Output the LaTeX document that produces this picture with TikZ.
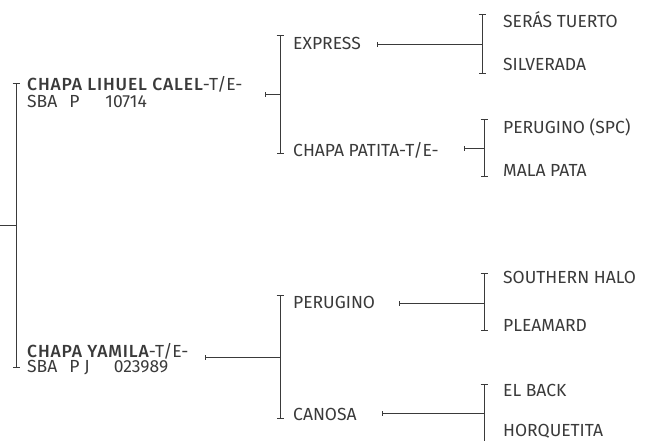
\documentclass[tikz,border=0pt]{standalone}
\usepackage{fontspec}
\setmainfont{Fira Sans}[BoldFont={Fira Sans Medium}]
\usepackage{tikz}
\usetikzlibrary{arrows.meta,calc}
\definecolor{ink}{HTML}{3A3A3A}
\newcommand{\horsename}[1]{{\bfseries\addfontfeature{LetterSpace=5}#1}}
\tikzset{
    horse/.style={anchor=west, inner sep=0pt, text=ink, font=\fontsize{17.5}{19}\selectfont},
    bracket/.style={draw=ink, line width=0.9pt, {Bar[width=7pt]}-{Bar[width=7pt]}},
    link/.style={draw=ink, line width=0.9pt, {Bar[width=5pt]}-}
}

\begin{document}
\begin{tikzpicture}[x=1pt, y=-1pt]
        \useasboundingbox (0,0) rectangle (649,440);

        % root
        \coordinate (root) at (0,225);
        \coordinate (b0t) at (16,83);
        \coordinate (b0b) at (16,368);
        \draw[bracket] (b0t) -- (b0b);
        \draw[draw=ink, line width=0.9pt] (root) -- (root -| b0t);

        % sire
        \node[horse] (lihuel) at (27,84) {\horsename{CHAPA LIHUEL CALEL}-T/E-};
        \node[horse] (lihuelreg) at (27,101) {SBA\hspace{12pt}P\hspace{26pt}10714};
        \coordinate (t1) at (265,94);
        \coordinate (b1t) at (280,35);
        \coordinate (b1b) at (280,154);
        \draw[bracket] (b1t) -- (b1b);
        \draw[link] (t1) -- (t1 -| b1t);

        \node[horse] (express) at (293,43) {EXPRESS};
        \node[horse] (patita) at (293,150) {CHAPA PATITA-T/E-};

        \coordinate (t2) at (377,44);
        \coordinate (b2t) at (482,14);
        \coordinate (b2b) at (482,74);
        \draw[bracket] (b2t) -- (b2b);
        \draw[link] (t2) -- (t2 -| b2t);
        \node[horse] (seras) at (503,20) {SERÁS TUERTO};
        \node[horse] (silverada) at (503,64) {SILVERADA};

        \coordinate (t3) at (464,148);
        \coordinate (b3t) at (484,119);
        \coordinate (b3b) at (484,177);
        \draw[bracket] (b3t) -- (b3b);
        \draw[link] (t3) -- (t3 -| b3t);
        \node[horse] (peruginospc) at (503,127) {PERUGINO (SPC)};
        \node[horse] (malapata) at (503,170) {MALA PATA};

        % dam
        \node[horse] (yamila) at (27,351) {\horsename{CHAPA YAMILA}-T/E-};
        \node[horse] (yamilareg) at (27,368) {SBA\hspace{12pt}P\hspace{5pt}J\hspace{24pt}023989};
        \coordinate (t4) at (205,357);
        \coordinate (b4t) at (280,295);
        \coordinate (b4b) at (280,419);
        \draw[bracket] (b4t) -- (b4b);
        \draw[link] (t4) -- (t4 -| b4t);

        \node[horse] (perugino) at (293,302) {PERUGINO};
        \node[horse] (canosa) at (293,414) {CANOSA};

        \coordinate (t5) at (399,303);
        \coordinate (b5t) at (484,273);
        \coordinate (b5b) at (484,331);
        \draw[bracket] (b5t) -- (b5b);
        \draw[link] (t5) -- (t5 -| b5t);
        \node[horse] (southern) at (503,277) {SOUTHERN HALO};
        \node[horse] (pleamard) at (503,325) {PLEAMARD};

        \coordinate (t6) at (382,413);
        \coordinate (b6t) at (484,384);
        \coordinate (b6b) at (484,442);
        \draw[bracket] (b6t) -- (b6b);
        \draw[link] (t6) -- (t6 -| b6t);
        \node[horse] (elback) at (503,390) {EL BACK};
        \node[horse] (horquetita) at (503,431) {HORQUETITA};
    \end{tikzpicture}
\end{document}
